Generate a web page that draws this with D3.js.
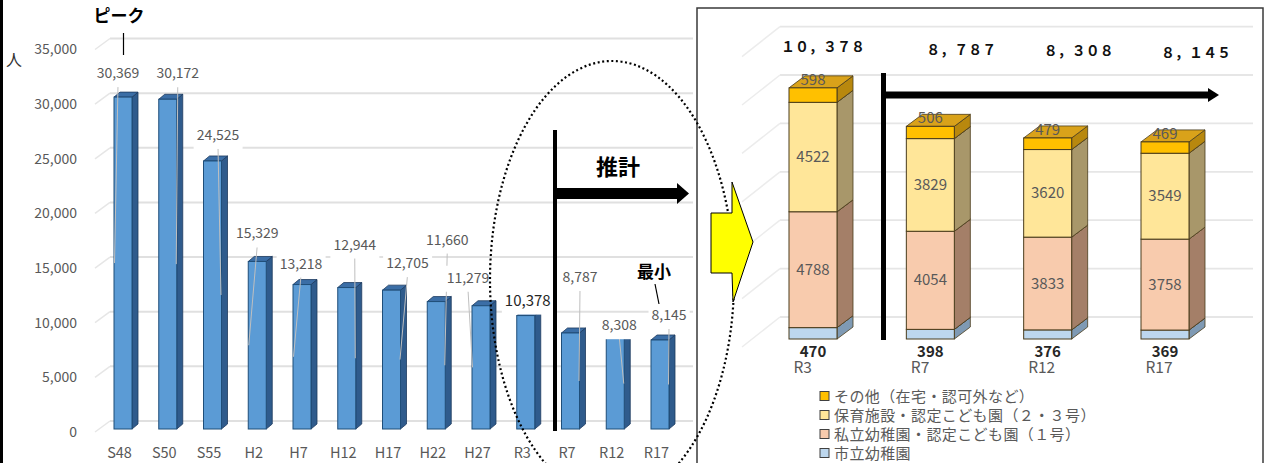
<!DOCTYPE html>
<html>
<head>
<meta charset="utf-8">
<script src="https://cdn.jsdelivr.net/npm/d3@7"></script>
<style>
  body { margin: 0; background: #fff; }
  svg { display: block; }
  text { font-family: "Noto Sans CJK JP", "Noto Sans", sans-serif; }
</style>
</head>
<body>
<svg id="chart" width="1269" height="463"></svg>
<script>
(function() {
  'use strict';

  // left chart: number of children by year
  var categories = ['S48', 'S50', 'S55', 'H2', 'H7', 'H12', 'H17', 'H22', 'H27', 'R3', 'R7', 'R12', 'R17'];
  var population = [30369, 30172, 24525, 15329, 13218, 12944, 12705, 11660, 11279, 10378, 8787, 8308, 8145];
  var yTicks = [0, 5000, 10000, 15000, 20000, 25000, 30000, 35000];

  // right chart: breakdown
  var futureCats = ['R3', 'R7', 'R12', 'R17'];
  var publicKinder = [470, 398, 376, 369];
  var privateKinder = [4788, 4054, 3833, 3758];
  var nursery = [4522, 3829, 3620, 3549];
  var others = [598, 506, 479, 469];
  var rTicks = [0, 2000, 4000, 6000, 8000, 10000, 12000];
  var legendNames = ['その他（在宅・認可外など）', '保育施設・認定こども園（２・３号）', '私立幼稚園・認定こども園（１号）', '市立幼稚園'];

  // manual data label offsets (as moved by hand in the original)
  var labelOffsets = [[-1, -24], [14, -26], [9.5, -26], [4, -28], [3, -21], [12, -43], [20, -27],
    [15, -62], [-9, -28], [6, -15], [13.5, -56], [8, -13], [13, -25]];
  var totalOffsets = [[10, 47], [31, 50], [31, 51], [31, 53]];

  var svg = d3.select('#chart');
  var gray = '#595959';

  svg.append('rect').attr('x', 0).attr('y', 0).attr('width', 3).attr('height', 463).attr('fill', '#000');

  // ---------- left chart ----------
  var x = d3.scalePoint().domain(categories).range([119, 656]);
  var y = d3.scaleLinear().domain([0, 35000]).range([429, 46.5]);
  var bw = 18, bdx = 6, bdy = -5;

  var grid = svg.append('g');
  yTicks.forEach(function(v) {
    grid.append('line')
        .attr('x1', 110).attr('x2', 693)
        .attr('y1', y(v) - 8).attr('y2', y(v) - 8)
        .attr('stroke', '#e0e0e0').attr('stroke-width', 2);
    grid.append('line')
        .attr('x1', 95).attr('x2', 110)
        .attr('y1', y(v) + 3).attr('y2', y(v) - 8)
        .attr('stroke', '#e6e6e6').attr('stroke-width', 1.5);
  });

  svg.append('g')
      .attr('transform', 'translate(77,3)')
      .call(d3.axisLeft(y).tickValues(yTicks).tickFormat(d3.format(',')).tickSize(0).tickPadding(0))
      .call(function(g) { g.select('.domain').remove(); })
      .selectAll('text')
        .attr('fill', gray).attr('font-size', 14)
        .style('font-family', '"Noto Sans CJK JP", sans-serif');

  svg.append('g')
      .attr('transform', 'translate(0,445)')
      .call(d3.axisBottom(x).tickSize(0))
      .call(function(g) { g.select('.domain').remove(); })
      .selectAll('text')
        .attr('fill', gray).attr('font-size', 14.5)
        .style('font-family', '"Noto Sans CJK JP", sans-serif');

  svg.append('text').attr('x', 14).attr('y', 66).attr('text-anchor', 'middle')
      .attr('font-size', 16).attr('fill', '#333').text('人');

  var bars = svg.append('g').selectAll('g').data(categories).enter().append('g');
  bars.each(function(c, i) {
    var g = d3.select(this);
    var x0 = x(c) - 5, x1 = x0 + bw, yt = y(population[i]), yb = y(0);
    g.append('path')
        .attr('d', 'M' + x1 + ',' + yb + 'L' + (x1 + bdx) + ',' + (yb + bdy) + 'L' + (x1 + bdx) + ',' + (yt + bdy) + 'L' + x1 + ',' + yt + 'Z')
        .attr('fill', '#2f5b8c').attr('stroke', '#1d3a5e').attr('stroke-width', 0.8);
    g.append('path')
        .attr('d', 'M' + x0 + ',' + yt + 'L' + (x0 + bdx) + ',' + (yt + bdy) + 'L' + (x1 + bdx) + ',' + (yt + bdy) + 'L' + x1 + ',' + yt + 'Z')
        .attr('fill', '#3b6ea6').attr('stroke', '#1d3a5e').attr('stroke-width', 0.8);
    g.append('rect')
        .attr('x', x0).attr('y', yt).attr('width', bw).attr('height', yb - yt)
        .attr('fill', '#5b9bd5').attr('stroke', '#1f4e79').attr('stroke-width', 1);
  });

  // leader lines
  var fmt = d3.format(',');
  categories.forEach(function(c, i) {
    if (c === 'R3') return;
    var lx = x(c) + labelOffsets[i][0], ly = y(population[i]) + labelOffsets[i][1];
    var x0 = x(c) - 5, fc = x0 + bw / 2;
    var ex = lx > fc ? x0 + bw - 0.5 : x0 + 0.5;
    svg.append('line')
        .attr('x1', lx).attr('y1', ly + 12)
        .attr('x2', ex).attr('y2', y(population[i] / 2))
        .attr('stroke', '#bfbfbf').attr('stroke-width', 1);
  });

  // data labels with white fill
  var labels = svg.append('g');
  categories.forEach(function(c, i) {
    var lx = x(c) + labelOffsets[i][0], ly = y(population[i]) + labelOffsets[i][1];
    var box = labels.append('rect').attr('fill', '#fff');
    var t = labels.append('text')
        .attr('x', lx).attr('y', ly + 5)
        .attr('text-anchor', 'middle')
        .attr('font-size', c === 'R3' ? 15 : 14)
        .attr('fill', c === 'R3' ? '#262626' : gray)
        .text(fmt(population[i]));
    var bb = t.node().getBBox();
    box.attr('x', bb.x - 3).attr('y', bb.y - 1).attr('width', bb.width + 6).attr('height', bb.height + 6);
  });

  svg.append('text').attr('x', 119).attr('y', 22).attr('text-anchor', 'middle')
      .attr('font-size', 17).attr('font-weight', 'bold').attr('fill', '#000').text('ピーク');
  svg.append('line').attr('x1', 123.5).attr('x2', 123.5).attr('y1', 33).attr('y2', 55)
      .attr('stroke', '#000').attr('stroke-width', 1.2);

  svg.append('text').attr('x', 654).attr('y', 278).attr('text-anchor', 'middle')
      .attr('font-size', 17).attr('font-weight', 'bold').attr('fill', '#000').text('最小');
  svg.append('line').attr('x1', 655).attr('x2', 659).attr('y1', 284).attr('y2', 304)
      .attr('stroke', '#000').attr('stroke-width', 1.2);

  // projection marker
  svg.append('rect').attr('x', 553).attr('y', 130).attr('width', 4).attr('height', 301).attr('fill', '#000');
  svg.append('rect').attr('x', 557).attr('y', 188).attr('width', 121).attr('height', 11).attr('fill', '#000');
  svg.append('path').attr('d', 'M677,183L689,193.5L677,204Z').attr('fill', '#000');
  svg.append('text').attr('x', 618).attr('y', 175).attr('text-anchor', 'middle')
      .attr('font-size', 22).attr('font-weight', 'bold').attr('fill', '#000').text('推計');

  // ---------- right panel ----------
  svg.append('rect').attr('x', 697).attr('y', 8).attr('width', 566).attr('height', 470)
      .attr('fill', '#fff').attr('stroke', '#3a3a3a').attr('stroke-width', 1.5);

  var xr = d3.scalePoint().domain(futureCats).range([789, 1141]);
  var yr = d3.scaleLinear().domain([0, 12000]).range([339, 48.6]);
  var rw = 48, rdx = 16, rdy = -12;

  rTicks.forEach(function(v) {
    svg.append('line')
        .attr('x1', 780).attr('x2', 1253)
        .attr('y1', yr(v) - 22).attr('y2', yr(v) - 22)
        .attr('stroke', '#e6e6e6').attr('stroke-width', 1.8);
    svg.append('line')
        .attr('x1', 742).attr('x2', 780)
        .attr('y1', yr(v) + 8).attr('y2', yr(v) - 22)
        .attr('stroke', '#ececec').attr('stroke-width', 1.5);
  });

  var stackData = futureCats.map(function(c, i) {
    return { cat: c, pub: publicKinder[i], priv: privateKinder[i], nur: nursery[i], oth: others[i] };
  });
  var keys = ['pub', 'priv', 'nur', 'oth'];
  var series = d3.stack().keys(keys)(stackData);
  var front = { pub: '#bdd7ee', priv: '#f8cbad', nur: '#ffe699', oth: '#ffc000' };
  var side = { pub: '#7f9ab4', priv: '#a47f68', nur: '#a8976a', oth: '#b8880e' };
  var top = { pub: '#9fb9d2', priv: '#d9a98a', nur: '#d8c07a', oth: '#d9a21a' };
  var edge = '#4a3c1c';

  series.forEach(function(s) {
    var k = s.key;
    s.forEach(function(d, i) {
      var x0 = xr(futureCats[i]), x1 = x0 + rw, yb = yr(d[0]), yt = yr(d[1]);
      var g = svg.append('g');
      g.append('path')
          .attr('d', 'M' + x1 + ',' + yb + 'L' + (x1 + rdx) + ',' + (yb + rdy) + 'L' + (x1 + rdx) + ',' + (yt + rdy) + 'L' + x1 + ',' + yt + 'Z')
          .attr('fill', side[k]).attr('stroke', edge).attr('stroke-width', 0.8);
      g.append('path')
          .attr('d', 'M' + x0 + ',' + yt + 'L' + (x0 + rdx) + ',' + (yt + rdy) + 'L' + (x1 + rdx) + ',' + (yt + rdy) + 'L' + x1 + ',' + yt + 'Z')
          .attr('fill', top[k]).attr('stroke', edge).attr('stroke-width', 0.8);
      g.append('rect')
          .attr('x', x0).attr('y', yt).attr('width', rw).attr('height', yb - yt)
          .attr('fill', front[k]).attr('stroke', edge).attr('stroke-width', 1);
    });
  });

  // segment labels
  series.forEach(function(s) {
    if (s.key === 'pub') return;
    s.forEach(function(d, i) {
      var cx = xr(futureCats[i]) + rw / 2;
      var cy = s.key === 'oth' ? yr(d[1]) - 8 : (yr(d[0]) + yr(d[1])) / 2;
      svg.append('text')
          .attr('x', cx).attr('y', cy + 5)
          .attr('text-anchor', 'middle')
          .attr('font-size', 15).attr('fill', gray)
          .text(d.data[s.key]);
    });
  });

  // bottom values (public kindergartens)
  futureCats.forEach(function(c, i) {
    svg.append('text')
        .attr('x', xr(c) + rw / 2).attr('y', 357)
        .attr('text-anchor', 'middle')
        .attr('font-size', 15).attr('font-weight', 'bold').attr('fill', '#262626')
        .text(publicKinder[i]);
  });

  svg.append('g')
      .attr('transform', 'translate(4,360)')
      .call(d3.axisBottom(xr).tickSize(0).tickPadding(2))
      .call(function(g) { g.select('.domain').remove(); })
      .selectAll('text')
        .attr('fill', gray).attr('font-size', 15.5).attr('text-anchor', 'start')
        .style('font-family', '"Noto Sans CJK JP", sans-serif');

  // totals in full-width digits
  function fullWidth(s) {
    return s.replace(/[0-9]/g, function(ch) { return String.fromCharCode(ch.charCodeAt(0) + 0xFEE0); })
            .replace(/,/g, '，');
  }
  stackData.forEach(function(d, i) {
    var total = d.pub + d.priv + d.nur + d.oth;
    svg.append('text')
        .attr('x', xr(d.cat) + rw / 2 + totalOffsets[i][0]).attr('y', totalOffsets[i][1] + 5)
        .attr('text-anchor', 'middle')
        .attr('font-size', 14).attr('font-weight', 'bold').attr('fill', '#111')
        .text(fullWidth(fmt(total)));
  });

  // projection marker on the right
  svg.append('rect').attr('x', 881).attr('y', 73).attr('width', 5).attr('height', 267).attr('fill', '#000');
  svg.append('rect').attr('x', 886).attr('y', 91.5).attr('width', 323).attr('height', 7).attr('fill', '#000');
  svg.append('path').attr('d', 'M1208,88L1219,95L1208,102Z').attr('fill', '#000');

  // legend
  var legColors = ['#ffc000', '#ffe699', '#f8cbad', '#bdd7ee'];
  legendNames.forEach(function(n, i) {
    var ly = 396 + i * 19;
    svg.append('rect').attr('x', 820).attr('y', ly - 4.5).attr('width', 9).attr('height', 9)
        .attr('fill', legColors[i]).attr('stroke', '#404040').attr('stroke-width', 1);
    svg.append('text').attr('x', 834).attr('y', ly + 5.5)
        .attr('font-size', 15).attr('letter-spacing', 0.4).attr('fill', gray).text(n);
  });

  // dotted ellipse and yellow arrow
  svg.append('ellipse')
      .attr('cx', 612).attr('cy', 280).attr('rx', 122).attr('ry', 219)
      .attr('fill', 'none').attr('stroke', '#000').attr('stroke-width', 2.2)
      .attr('stroke-dasharray', '2,2.6');

  svg.append('path')
      .attr('d', 'M711,213L732,213L732,182L753,242L733,302L732,273L711,273Z')
      .attr('fill', '#ffff00').attr('stroke', '#000').attr('stroke-width', 1);
}());
</script>
</body>
</html>
